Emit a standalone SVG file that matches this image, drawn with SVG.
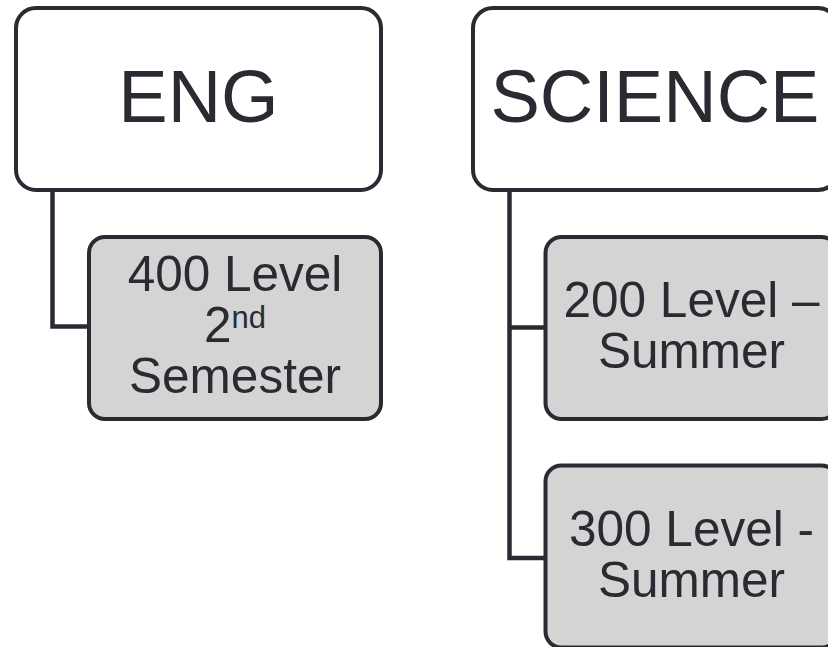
<svg xmlns="http://www.w3.org/2000/svg" width="828" height="647" viewBox="0 0 828 647">
<style>
.top{fill:#ffffff;stroke:#2a2a32;stroke-width:4}
.sub{fill:#d4d4d4;stroke:#2a2a32;stroke-width:4}
.conn{fill:none;stroke:#2a2a32;stroke-width:4.5;stroke-linejoin:miter}
.big{font-family:"Liberation Sans",Arial,sans-serif;font-size:74px;fill:#2a2a32;text-anchor:middle}
.lbl{font-family:"Liberation Sans",Arial,sans-serif;font-size:49.5px;fill:#2a2a32;text-anchor:middle}
</style>
<rect width="828" height="647" fill="#ffffff"/>
<g id="connectors">
<path class="conn" d="M52.5,190 V326.5 H89"/>
<path class="conn" d="M509.5,190 V558 H545.5 M509.5,327.5 H545.5"/>
</g>
<g id="eng">
<rect class="top" x="16" y="8" width="365" height="182" rx="20"/>
<text class="big" x="198.5" y="122">ENG</text>
</g>
<g id="science">
<rect class="top" x="473" y="8" width="365" height="182" rx="20"/>
<text class="big" x="655" y="122">SCIENCE</text>
</g>
<g id="eng-400">
<rect class="sub" x="89" y="237" width="292" height="182" rx="16"/>
<text class="lbl" x="235" y="291">400 Level</text>
<text class="lbl" x="235" y="342">2<tspan font-size="31" dy="-14">nd</tspan></text>
<text class="lbl" x="235" y="393">Semester</text>
</g>
<g id="sci-200">
<rect class="sub" x="545.5" y="237" width="292" height="182" rx="16"/>
<text class="lbl" x="691.5" y="317">200 Level –</text>
<text class="lbl" x="691.5" y="368">Summer</text>
</g>
<g id="sci-300">
<rect class="sub" x="545.5" y="465.5" width="292" height="182" rx="16"/>
<text class="lbl" x="691.5" y="546">300 Level -</text>
<text class="lbl" x="691.5" y="597">Summer</text>
</g>
</svg>
